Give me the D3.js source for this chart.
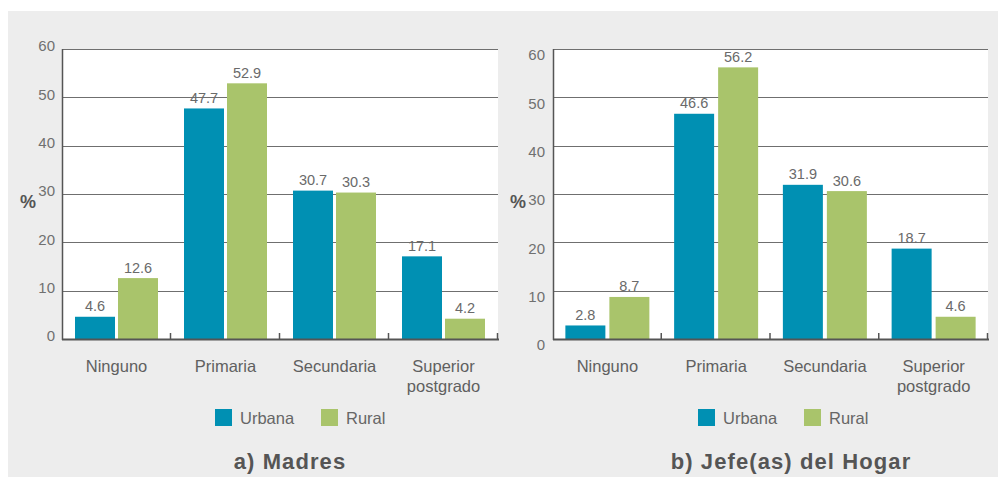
<!DOCTYPE html>
<html><head><meta charset="utf-8">
<script src="https://cdn.jsdelivr.net/npm/d3@7"></script>
<style>
html,body{margin:0;padding:0;background:#fff;}
svg{display:block;font-family:"Liberation Sans",Arial,Helvetica,sans-serif;}
</style></head>
<body>
<svg id="chart" width="998" height="477"></svg>
<script>
const categories = ["Ninguno", "Primaria", "Secundaria", "Superior\npostgrado"];
const seriesNames = ["Urbana", "Rural"];
const madresUrbana = [4.6, 47.7, 30.7, 17.1];
const madresRural = [12.6, 52.9, 30.3, 4.2];
const jefesUrbana = [2.8, 46.6, 31.9, 18.7];
const jefesRural = [8.7, 56.2, 30.6, 4.6];
const yTicks = [0, 10, 20, 30, 40, 50, 60];
const titles = ["a) Madres", "b) Jefe(as) del Hogar"];
const colors = ["#0090b3", "#a9c46b"];

const svg = d3.select("#chart");
svg.append("rect").attr("x", 8).attr("y", 11).attr("width", 990).attr("height", 466).attr("fill", "#ededed");

const panels = [
  {x0: 62, x1: 498, data: [madresUrbana, madresRural], title: titles[0], titleX: 290,
   tickOff: -3, tickX: 55, pctX: 28, legendX: 215, gap: 3},
  {x0: 553, x1: 988, data: [jefesUrbana, jefesRural], title: titles[1], titleX: 791,
   tickOff: 6, tickX: 545, pctX: 518, legendX: 698, gap: 4}
];
const yTop = 49, yBot = 339;

panels.forEach(p => {
  const g = svg.append("g");
  const x = d3.scaleBand().domain(categories).range([p.x0, p.x1]);
  const y = d3.scaleLinear().domain([0, 60]).range([yBot, yTop]);
  const barW = 40;

  g.append("rect").attr("x", p.x0).attr("y", yTop).attr("width", p.x1 - p.x0).attr("height", yBot - yTop).attr("fill", "#fff");

  // gridlines
  g.selectAll(".grid").data(yTicks.filter(t => t > 0)).join("line")
    .attr("x1", p.x0).attr("x2", p.x1)
    .attr("y1", d => Math.round(y(d)) + 0.5).attr("y2", d => Math.round(y(d)) + 0.5)
    .attr("stroke", "#6f6f6f").attr("stroke-width", 1.2);

  // y tick labels
  g.selectAll(".yl").data(yTicks).join("text")
    .attr("x", p.tickX).attr("y", d => y(d) + p.tickOff).attr("dy", "0.35em")
    .attr("text-anchor", "end").attr("font-size", 15).attr("fill", "#707070")
    .text(d => d);

  // bars
  categories.forEach((c, i) => {
    const cx = x(c) + x.bandwidth() / 2;
    p.data.forEach((arr, s) => {
      const v = arr[i];
      const bx = s === 0 ? cx - p.gap / 2 - barW : cx + p.gap / 2;
      g.append("rect").attr("x", bx).attr("y", y(v)).attr("width", barW).attr("height", yBot - y(v)).attr("fill", colors[s]);
      g.append("text").attr("x", bx + barW / 2).attr("y", y(v) - 5.5)
        .attr("text-anchor", "middle").attr("font-size", 14.5).attr("fill", "#6a6a6a")
        .text(v.toFixed(1));
    });
    const lines = c.split("\n");
    g.append("text").attr("x", cx).attr("y", 372).attr("text-anchor", "middle")
      .attr("font-size", 16.5).attr("fill", "#606060")
      .selectAll("tspan").data(lines).join("tspan")
      .attr("x", cx).attr("dy", (d, k) => k === 0 ? 0 : 20).text(d => d);
  });

  // left axis
  g.append("line").attr("x1", p.x0 + 0.5).attr("x2", p.x0 + 0.5).attr("y1", yTop).attr("y2", yBot + 1)
    .attr("stroke", "#555").attr("stroke-width", 1.5);
  // bottom axis
  g.append("line").attr("x1", p.x0).attr("x2", p.x1 + 1).attr("y1", yBot + 0.5).attr("y2", yBot + 0.5)
    .attr("stroke", "#555").attr("stroke-width", 2);
  // ticks at band boundaries
  const bounds = categories.map(c => x(c)).concat([p.x1]).slice(1);
  g.selectAll(".tk").data(bounds).join("line")
    .attr("x1", d => d - 0.5).attr("x2", d => d - 0.5).attr("y1", yBot - 6).attr("y2", yBot)
    .attr("stroke", "#555").attr("stroke-width", 1.5);

  // % label
  g.append("text").attr("x", p.pctX).attr("y", 202).attr("dy", "0.35em").attr("text-anchor", "middle")
    .attr("font-size", 18).attr("font-weight", "bold").attr("fill", "#555").text("%");

  // legend
  seriesNames.forEach((n, s) => {
    const lx = p.legendX + s * 106;
    g.append("rect").attr("x", lx).attr("y", 409).attr("width", 17).attr("height", 17).attr("fill", colors[s]);
    g.append("text").attr("x", lx + 25).attr("y", 418).attr("dy", "0.35em")
      .attr("font-size", 16.5).attr("fill", "#666").text(n);
  });

  // title
  g.append("text").attr("x", p.titleX).attr("y", 461).attr("dy", "0.35em").attr("text-anchor", "middle")
    .attr("font-size", 22).attr("font-weight", "bold").attr("letter-spacing", 1.1).attr("fill", "#555").text(p.title);
});
</script>
</body></html>
